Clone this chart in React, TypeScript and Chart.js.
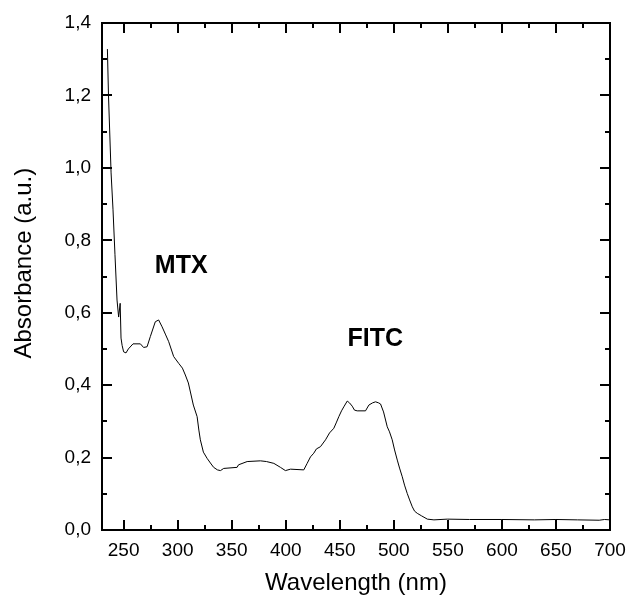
import React, { useEffect, useRef } from "react";
import { Chart, registerables } from "chart.js";

Chart.register(...registerables);

const wavelengths = [235, 236, 238.4, 240.2, 242, 243.9, 245.4, 246.8, 247.6, 248.6, 250, 252.2, 254.4, 258.7, 265.5, 268.5, 271.7, 274.7, 279.3, 282.4, 285.6, 288.6, 291.7, 296.3, 301, 304.4, 307.1, 309.9, 311.8, 314.5, 318, 319.6, 321, 323.8, 327.2, 330.3, 333.3, 336.8, 339.6, 342.6, 355, 356.3, 364.3, 376.6, 382.2, 389, 395.1, 399.7, 404.4, 416.7, 419.8, 422.9, 425.9, 428.4, 432.1, 436.8, 440.5, 444.5, 447, 449.1, 451.6, 453.7, 456.9, 459, 461.5, 463.6, 466.1, 473.8, 476.9, 480.3, 483.1, 485.9, 487.7, 490.5, 493.9, 496, 498.5, 500.7, 503.2, 505.3, 507.8, 509.9, 512.4, 514.6, 517.1, 519.2, 521.7, 525.7, 531, 537.1, 549.5, 570, 600, 630, 650, 670, 690, 695, 700];

const absorbance = [1.328, 1.2, 0.986, 0.884, 0.76, 0.635, 0.588, 0.626, 0.53, 0.51, 0.492, 0.489, 0.5, 0.514, 0.514, 0.504, 0.506, 0.534, 0.575, 0.58, 0.561, 0.541, 0.52, 0.479, 0.46, 0.447, 0.428, 0.406, 0.381, 0.345, 0.313, 0.276, 0.249, 0.215, 0.198, 0.185, 0.173, 0.166, 0.164, 0.17, 0.173, 0.18, 0.189, 0.191, 0.189, 0.184, 0.173, 0.164, 0.168, 0.166, 0.184, 0.202, 0.212, 0.224, 0.23, 0.249, 0.268, 0.281, 0.298, 0.313, 0.329, 0.34, 0.356, 0.351, 0.342, 0.331, 0.329, 0.329, 0.345, 0.351, 0.354, 0.351, 0.348, 0.326, 0.285, 0.271, 0.249, 0.221, 0.193, 0.171, 0.147, 0.124, 0.101, 0.083, 0.064, 0.052, 0.046, 0.039, 0.03, 0.028, 0.03, 0.029, 0.029, 0.028, 0.029, 0.028, 0.027, 0.029, 0.028];

const xMajorTicks = [250, 300, 350, 400, 450, 500, 550, 600, 650, 700];
const xMinorTicks = [275, 325, 375, 425, 475, 525, 575, 625, 675];
const yMajorTicks = [0, 0.2, 0.4, 0.6, 0.8, 1.0, 1.2, 1.4];
const yMinorTicks = [0.1, 0.3, 0.5, 0.7, 0.9, 1.1, 1.3];

const annotationLabels = ["MTX", "FITC"];
const annotationX = [303.3, 482.8];
const annotationY = [0.711, 0.508];

const FONT = "'Liberation Sans', Arial, sans-serif";

const framePlugin = {
  id: "frameTicks",
  afterDraw(chart: any) {
    const { ctx, chartArea } = chart;
    const xs = chart.scales.x;
    const ys = chart.scales.y;
    const { left, right, top, bottom } = chartArea;
    ctx.save();
    ctx.strokeStyle = "#000";
    ctx.lineWidth = 2;
    ctx.strokeRect(left, top, right - left, bottom - top);
    ctx.beginPath();
    const major = 10;
    const minor = 5;
    xMajorTicks.forEach((v) => {
      const px = Math.round(xs.getPixelForValue(v));
      ctx.moveTo(px, bottom);
      ctx.lineTo(px, bottom - major);
      ctx.moveTo(px, top);
      ctx.lineTo(px, top + major);
    });
    xMinorTicks.forEach((v) => {
      const px = Math.round(xs.getPixelForValue(v));
      ctx.moveTo(px, bottom);
      ctx.lineTo(px, bottom - minor);
      ctx.moveTo(px, top);
      ctx.lineTo(px, top + minor);
    });
    yMajorTicks.forEach((v) => {
      const py = Math.round(ys.getPixelForValue(v));
      ctx.moveTo(left, py);
      ctx.lineTo(left + major, py);
      ctx.moveTo(right, py);
      ctx.lineTo(right - major, py);
    });
    yMinorTicks.forEach((v) => {
      const py = Math.round(ys.getPixelForValue(v));
      ctx.moveTo(left, py);
      ctx.lineTo(left + minor, py);
      ctx.moveTo(right, py);
      ctx.lineTo(right - minor, py);
    });
    ctx.stroke();

    ctx.fillStyle = "#000";
    ctx.font = `bold 25px ${FONT}`;
    ctx.textAlign = "center";
    ctx.textBaseline = "alphabetic";
    annotationLabels.forEach((t, i) => {
      ctx.fillText(t, xs.getPixelForValue(annotationX[i]), ys.getPixelForValue(annotationY[i]));
    });
    ctx.restore();
  },
};

export default function App() {
  const ref = useRef<HTMLCanvasElement | null>(null);
  useEffect(() => {
    if (!ref.current) return;
    const chart = new Chart(ref.current, {
      type: "line",
      data: {
        datasets: [
          {
            data: wavelengths.map((w, i) => ({ x: w, y: absorbance[i] })),
            borderColor: "#000",
            borderWidth: 1,
            pointRadius: 0,
            tension: 0,
            fill: false,
          },
        ],
      },
      options: {
        animation: false,
        responsive: true,
        maintainAspectRatio: false,
        layout: { padding: { top: 23, right: 16, left: 0, bottom: 0 } },
        plugins: { legend: { display: false }, tooltip: { enabled: false } },
        scales: {
          x: {
            type: "linear",
            min: 230,
            max: 700,
            afterBuildTicks: (s: any) => {
              s.ticks = xMajorTicks.map((v) => ({ value: v }));
            },
            afterFit: (s: any) => {
              s.height = 68;
              s.paddingLeft = 0;
              s.paddingRight = 0;
            },
            grid: { display: false, drawTicks: false },
            border: { display: false },
            ticks: {
              padding: 9,
              color: "#000",
              font: { family: FONT, size: 19 },
              maxRotation: 0,
              autoSkip: false,
            },
            title: {
              display: true,
              text: "Wavelength (nm)",
              color: "#000",
              font: { family: FONT, size: 24 },
              padding: { top: 0, bottom: 0 },
            },
          },
          y: {
            type: "linear",
            min: 0,
            max: 1.4,
            afterBuildTicks: (s: any) => {
              s.ticks = yMajorTicks.map((v) => ({ value: v }));
            },
            afterFit: (s: any) => {
              s.width = 102;
              s.paddingTop = 0;
              s.paddingBottom = 0;
            },
            grid: { display: false, drawTicks: false },
            border: { display: false },
            ticks: {
              padding: 11,
              color: "#000",
              font: { family: FONT, size: 19 },
              callback: (v: any) => Number(v).toFixed(1).replace(".", ","),
            },
            title: {
              display: true,
              text: "    Absorbance (a.u.)",
              color: "#000",
              font: { family: FONT, size: 24 },
              padding: { top: 10, bottom: 0 },
            },
          },
        },
      },
      plugins: [framePlugin],
    });
    return () => chart.destroy();
  }, []);
  return (
    <div style={{ position: "fixed", left: 0, top: 0, width: 626, height: 598, background: "#fff" }}>
      <canvas ref={ref} />
    </div>
  );
}
